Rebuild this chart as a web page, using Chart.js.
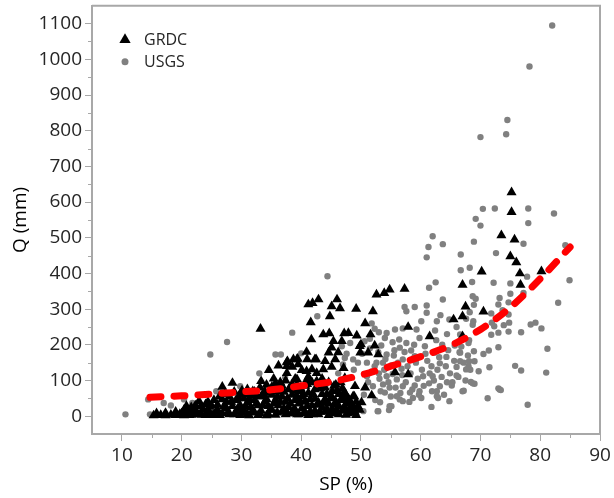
<!DOCTYPE html>
<html>
<head>
<meta charset="utf-8">
<script src="https://cdn.jsdelivr.net/npm/chart.js@4.4.1/dist/chart.umd.min.js"></script>
<style>
  html, body { margin: 0; padding: 0; background: #fff; }
  #chart { display: block; }
</style>
</head>
<body>
<canvas id="chart" width="614" height="498"></canvas>
<script>
// axis ticks
const spTicks = [10, 20, 30, 40, 50, 60, 70, 80, 90];
const qTicks = [0, 100, 200, 300, 400, 500, 600, 700, 800, 900, 1000, 1100];

// GRDC stations, [SP %, Q mm] - dense low-flow band first
const grdcLow = [
  [15.3, 2], [15.8, 8], [16.5, 3], [17.3, 9], [17.3, 2], [18.2, 4], [19.0, 12], [19.0, 3],
  [19.7, 6], [20.4, 18], [20.4, 2], [21.0, 10], [21.6, 25], [21.6, 4], [22.3, 14], [22.3, 30],
  [22.9, 42], [22.9, 5], [23.6, 20], [24.0, 33], [24.0, 3], [24.7, 10], [24.7, 26], [25.4, 45],
  [25.4, 4], [26.0, 18], [26.0, 32], [26.8, 8], [26.8, 47], [27.5, 22], [27.5, 40], [28.0, 5],
  [28.0, 55], [28.5, 28], [29.1, 12], [29.1, 45], [29.8, 3], [29.8, 62], [29.8, 30], [30.4, 18],
  [30.4, 50], [31.0, 6], [31.0, 38], [31.6, 25], [31.6, 58], [32.2, 10], [32.2, 45], [32.2, 68],
  [32.8, 30], [32.8, 3], [33.3, 55], [33.3, 15], [33.9, 40], [33.9, 70], [34.5, 6], [34.5, 28],
  [35.1, 60], [35.1, 18], [35.1, 82], [35.7, 45], [35.7, 4], [35.7, 92], [36.2, 30], [36.2, 70],
  [36.8, 12], [36.8, 55], [36.8, 85], [37.4, 40], [37.4, 5], [37.4, 100], [37.9, 25], [37.9, 75],
  [38.5, 8], [38.5, 60], [38.5, 90], [39.0, 45], [39.0, 18], [39.0, 105], [39.6, 5], [39.6, 70],
  [39.6, 35], [40.1, 55], [40.1, 22], [40.7, 85], [40.7, 10], [40.7, 42], [41.2, 65], [41.2, 3],
  [41.2, 110], [41.8, 30], [41.8, 95], [42.3, 50], [42.3, 15], [42.3, 75], [42.9, 5], [42.9, 88],
  [42.9, 38], [43.5, 62], [43.5, 25], [43.5, 105], [44.0, 12], [44.0, 48], [44.0, 80], [44.6, 35],
  [44.6, 3], [44.6, 95], [45.2, 70], [45.2, 20], [45.2, 52], [45.8, 8], [45.8, 40], [45.8, 88],
  [46.3, 28], [46.3, 62], [46.3, 5], [46.9, 15], [46.9, 50], [46.9, 78], [47.5, 35], [47.5, 4],
  [47.5, 60], [48.1, 22], [48.1, 45], [48.6, 10], [48.6, 30], [49.2, 3], [49.2, 40], [49.8, 18],
  [20.0, 8], [20.8, 28], [21.3, 3], [22.0, 18], [22.6, 8], [23.2, 28], [23.3, 4], [24.3, 15],
  [24.4, 40], [25.0, 30], [25.1, 3], [25.7, 12], [26.3, 55], [26.4, 3], [27.1, 28], [27.2, 62],
  [27.8, 12], [28.3, 40], [28.8, 5], [28.8, 68], [29.4, 22], [29.5, 50], [30.1, 10], [30.1, 72],
  [30.7, 28], [30.7, 62], [31.3, 2], [31.3, 48], [31.9, 15], [31.9, 70], [32.5, 35], [32.5, 58],
  [33.1, 8], [33.1, 80], [33.6, 30], [33.6, 62], [34.2, 2], [34.2, 48], [34.2, 88], [34.8, 18],
  [34.8, 65], [35.4, 35], [35.4, 105], [36.0, 10], [36.0, 55], [36.5, 40], [36.5, 95], [37.1, 22],
  [37.1, 68], [37.7, 8], [37.7, 50], [38.2, 35], [38.2, 80], [38.8, 20], [38.8, 72], [39.3, 5],
  [39.3, 55], [39.3, 88], [39.9, 40], [39.9, 78], [40.4, 8], [40.4, 62], [41.0, 28], [41.0, 90],
  [41.5, 48], [41.5, 12], [42.0, 62], [42.0, 5], [42.6, 32], [42.6, 95], [43.2, 12], [43.2, 78],
  [43.8, 38], [43.8, 92], [44.3, 62], [44.3, 20], [44.9, 8], [44.9, 50], [45.5, 32], [45.5, 85],
  [46.0, 15], [46.0, 72], [46.6, 45], [46.6, 95], [47.2, 25], [47.2, 68], [47.8, 8], [47.8, 50],
  [48.3, 35], [48.9, 15], [48.9, 55], [49.5, 28]
];

// GRDC stations above the band
const grdcHigh = [
  [75.2, 627], [75.2, 572], [73.5, 507], [75.7, 495], [75.0, 448], [76.0, 431], [76.6, 400],
  [70.2, 405], [80.2, 406], [76.7, 368], [67.0, 368], [67.5, 307], [67.0, 280], [65.5, 271],
  [70.5, 293], [67.0, 224],
  [52.6, 341], [53.9, 345], [54.8, 355], [57.3, 357], [49.2, 301], [52.0, 294], [50.7, 260],
  [49.3, 226], [51.6, 229], [49.8, 196], [52.3, 198], [49.9, 178], [51.2, 178], [52.9, 173],
  [57.9, 250], [61.5, 224], [55.7, 123], [57.9, 117], [49.0, 84], [50.7, 80], [48.7, 56],
  [51.8, 58], [48.5, 28], [50.1, 39], [49.0, 10], [48.0, 14], [49.3, 19],
  [41.2, 313], [41.9, 317], [42.9, 327], [46.0, 327], [46.5, 302], [45.1, 308], [44.8, 280],
  [41.6, 263], [43.7, 229], [44.7, 232], [47.2, 232], [47.9, 233], [41.7, 215], [45.4, 210],
  [46.8, 210], [50.0, 201], [44.6, 178], [40.9, 180], [45.1, 192], [46.2, 179], [38.7, 159],
  [44.0, 154], [45.7, 159], [39.5, 145], [42.3, 159], [37.6, 140], [40.9, 126], [42.6, 121],
  [37.6, 121], [33.2, 245], [39.3, 159], [41.0, 159], [42.5, 159], [37.6, 151], [36.2, 142],
  [38.5, 138], [34.6, 129], [40.1, 129], [41.8, 131], [43.7, 131], [45.1, 138], [47.1, 135],
  [33.3, 98], [39.3, 103], [41.0, 103], [42.6, 98], [47.3, 107], [31.0, 75], [28.5, 93],
  [26.8, 82], [37.7, 154], [39.4, 161]
];

// USGS stations
const usgs = [
  [82.0, 1095], [78.2, 980], [74.5, 830], [74.3, 790], [70.0, 782],
  [70.4, 581], [72.4, 582], [78.0, 582], [82.3, 568], [69.2, 553], [70.0, 534], [78.0, 541],
  [68.9, 489], [77.2, 483], [84.2, 479], [66.7, 453], [72.6, 457], [68.2, 416], [66.7, 409],
  [68.6, 376], [72.2, 374], [75.0, 372], [77.8, 391], [84.9, 381], [68.7, 336], [69.2, 329],
  [73.2, 331], [75.0, 343], [77.2, 345], [68.9, 312], [73.0, 313], [74.7, 319], [83.0, 318],
  [68.2, 291], [71.8, 288], [73.7, 297], [74.7, 285], [68.8, 266], [71.9, 262], [74.8, 262],
  [78.4, 257], [79.2, 262], [80.2, 246], [68.7, 256], [72.3, 252], [73.9, 255], [71.8, 228],
  [73.0, 234], [74.7, 237], [76.8, 235], [68.1, 213], [81.2, 189], [73.0, 193], [68.9, 182],
  [70.5, 174], [71.4, 184], [66.6, 178], [66.6, 154], [68.1, 154], [69.0, 154], [68.0, 140],
  [69.7, 126], [71.5, 137], [75.8, 141], [76.8, 128], [81.0, 122], [68.4, 96], [69.0, 91],
  [67.2, 71], [73.0, 78], [73.4, 73], [71.2, 50], [77.9, 32],
  [62.0, 504], [61.3, 474], [63.7, 482], [61.0, 445], [62.5, 375], [61.4, 360], [57.3, 306],
  [59.0, 306], [57.6, 294], [61.0, 310], [63.7, 327], [61.0, 290], [63.3, 283], [60.1, 266],
  [62.7, 266], [64.8, 271], [67.6, 273], [55.7, 243], [57.0, 246], [59.3, 243], [54.3, 233],
  [64.4, 230], [66.6, 229], [54.0, 219], [55.3, 207], [56.4, 215], [57.6, 205], [59.8, 219],
  [62.6, 213], [53.4, 198], [56.5, 192], [58.4, 184], [60.7, 196], [63.6, 200], [65.7, 198],
  [68.0, 205], [52.9, 179], [54.3, 173], [55.5, 170], [57.0, 159], [59.0, 168], [62.3, 178],
  [64.3, 166], [66.5, 179], [53.7, 150], [55.1, 142], [56.8, 133], [61.8, 140], [63.2, 148],
  [66.0, 138], [53.0, 120], [54.3, 112], [56.0, 103], [60.4, 112], [62.0, 112], [66.0, 114],
  [67.6, 131], [53.7, 89], [54.8, 80], [57.0, 84], [59.0, 86], [61.4, 92], [63.2, 84],
  [64.4, 95], [67.0, 70], [54.0, 66], [56.0, 56], [58.2, 66], [60.1, 51], [62.7, 56],
  [53.2, 39], [55.1, 28], [57.0, 42], [61.8, 26], [64.8, 42], [52.9, 14], [54.7, 17],
  [51.5, 217], [52.3, 140], [51.0, 112], [52.0, 84],
  [50.4, 14], [52.8, 14], [54.8, 28], [56.5, 47], [58.7, 51], [59.8, 70], [62.9, 51],
  [62.7, 70], [65.2, 86], [68.7, 92], [73.2, 75],
  [50.5, 60], [51.2, 95], [51.8, 125], [52.4, 45], [52.6, 150], [53.1, 105], [53.3, 70],
  [53.9, 130], [54.1, 160], [54.6, 95], [55.0, 55], [55.3, 118], [55.6, 185], [55.8, 80],
  [56.2, 150], [56.6, 65], [56.9, 115], [57.3, 180], [57.5, 95], [57.8, 140], [58.1, 40],
  [58.3, 120], [58.6, 75], [58.9, 200], [59.2, 150], [59.5, 105], [59.7, 60], [60.2, 130],
  [60.5, 85], [60.8, 175], [61.1, 155], [61.5, 120], [61.9, 70], [62.2, 100], [62.4, 240],
  [62.8, 130], [63.1, 165], [63.5, 110], [63.9, 60], [64.2, 140], [64.6, 185], [64.9, 120],
  [65.3, 95], [65.6, 155], [66.0, 250], [66.3, 110], [66.8, 195], [67.2, 150], [67.5, 100],
  [67.9, 170], [68.3, 130],
  [46.2, 120], [47.0, 145], [47.6, 175], [48.2, 205], [48.8, 130], [49.5, 150], [50.2, 175],
  [50.6, 210], [51.0, 150], [51.5, 190], [52.3, 245], [53.0, 235], [51.8, 260],
  [42.7, 280], [38.5, 234], [35.7, 173], [36.6, 173], [40.0, 176], [33.0, 120], [29.8, 84],
  [47.3, 163], [48.7, 159], [46.8, 196], [44.4, 392], [37.3, 110],
  [10.6, 5], [24.8, 173], [27.6, 208], [14.4, 47], [14.7, 5], [17.0, 37], [18.2, 30],
  [25.8, 70], [20.4, 47], [21.8, 37]
];

// exponential fit
const fitSP = [14.7, 20, 25, 30, 35, 40, 45, 50, 55, 60, 65, 70, 75, 80, 85];
const fitQ = [53, 57, 62, 68, 74, 85, 96, 115, 140, 167, 198, 243, 305, 385, 474];

const toXY = p => ({ x: p[0], y: p[1] });
const axisGray = '#a8a8a8';
const labelColor = '#262626';
const fontFamily = "'Open Sans', 'Noto Sans', sans-serif";

// short ticks between the labelled ones, plus the top/right frame
const frame = {
  id: 'frame',
  afterDraw(chart) {
    const { ctx, chartArea: a, scales } = chart;
    ctx.save();
    ctx.strokeStyle = axisGray;
    ctx.lineWidth = 2;
    ctx.beginPath();
    ctx.moveTo(a.left, a.top);
    ctx.lineTo(a.right, a.top);
    ctx.lineTo(a.right, a.bottom);
    ctx.stroke();
    ctx.lineWidth = 1;
    ctx.beginPath();
    for (let v = 15; v < 90; v += 10) {
      const x = Math.round(scales.x.getPixelForValue(v)) + 0.5;
      ctx.moveTo(x, a.bottom);
      ctx.lineTo(x, a.bottom + 4);
    }
    for (let v = 50; v < 1150; v += 100) {
      const y = Math.round(scales.y.getPixelForValue(v)) + 0.5;
      ctx.moveTo(a.left, y);
      ctx.lineTo(a.left - 4, y);
    }
    ctx.stroke();
    ctx.restore();
  }
};

// legend sitting inside the plot, top-left
const insideLegend = {
  id: 'insideLegend',
  afterDraw(chart) {
    const { ctx, chartArea: a } = chart;
    const x = a.left + 33;
    const rows = [
      { text: 'GRDC', style: 'triangle', radius: 6.5, color: '#000', y: a.top + 34 },
      { text: 'USGS', style: 'circle', radius: 3.5, color: 'rgb(128,128,128)', y: a.top + 56 }
    ];
    ctx.save();
    ctx.font = "16px " + fontFamily;
    ctx.textBaseline = 'middle';
    rows.forEach(r => {
      ctx.fillStyle = r.color;
      Chart.helpers.drawPoint(ctx, { pointStyle: r.style, radius: r.radius, rotation: 0, borderWidth: 0 }, x, r.y);
      ctx.fillStyle = labelColor;
      ctx.fillText(r.text, x + 19, r.y + 1);
    });
    ctx.restore();
  }
};

new Chart(document.getElementById('chart'), {
  type: 'scatter',
  data: {
    datasets: [
      {
        label: 'GRDC',
        data: grdcLow.concat(grdcHigh).map(toXY),
        pointStyle: 'triangle',
        pointRadius: 5.8,
        pointBorderWidth: 0,
        backgroundColor: '#000',
        borderColor: '#000',
        order: 1
      },
      {
        label: 'USGS',
        data: usgs.map(toXY),
        pointStyle: 'circle',
        pointRadius: 3.2,
        pointBorderWidth: 0,
        backgroundColor: 'rgb(128,128,128)',
        borderColor: 'rgb(128,128,128)',
        order: 2
      },
      {
        label: 'fit',
        data: fitSP.map((x, i) => ({ x, y: fitQ[i] })),
        showLine: true,
        pointRadius: 0,
        borderColor: 'rgb(255,0,0)',
        borderWidth: 7,
        borderDash: [11, 13],
        borderCapStyle: 'round',
        cubicInterpolationMode: 'monotone',
        order: 0
      }
    ]
  },
  options: {
    responsive: false,
    animation: false,
    layout: { padding: { top: 5, right: 14, left: 0, bottom: 0 } },
    plugins: {
      legend: { display: false },
      tooltip: { enabled: false }
    },
    scales: {
      x: {
        type: 'linear',
        min: 5,
        max: 90,
        afterBuildTicks: s => { s.ticks = spTicks.map(v => ({ value: v })); },
        afterFit: s => { s.height = 64; },
        grid: { drawOnChartArea: false, tickLength: 7, color: axisGray, lineWidth: 1 },
        border: { color: axisGray, width: 2 },
        ticks: {
          callback: v => String(v),
          color: labelColor,
          font: { family: fontFamily, size: 19 },
          padding: 3,
          maxRotation: 0
        },
        title: {
          display: true,
          text: 'SP (%)',
          color: '#000',
          font: { family: fontFamily, size: 19 },
          padding: { top: 0, bottom: 2 }
        }
      },
      y: {
        type: 'linear',
        min: -50,
        max: 1150,
        afterBuildTicks: s => { s.ticks = qTicks.map(v => ({ value: v })); },
        afterFit: s => {
          s.width = 92;
          // the end labels sit well inside the range, so no extra room above/below
          s.paddingTop = 0;
          s.paddingBottom = 0;
        },
        grid: { drawOnChartArea: false, tickLength: 7, color: axisGray, lineWidth: 1 },
        border: { color: axisGray, width: 2 },
        ticks: {
          callback: v => String(v),
          color: labelColor,
          font: { family: fontFamily, size: 19 },
          padding: 3
        },
        title: {
          display: true,
          text: 'Q (mm)',
          color: '#000',
          font: { family: fontFamily, size: 19 },
          padding: { top: 9, bottom: 0 }
        }
      }
    }
  },
  plugins: [frame, insideLegend]
});
</script>
</body>
</html>
